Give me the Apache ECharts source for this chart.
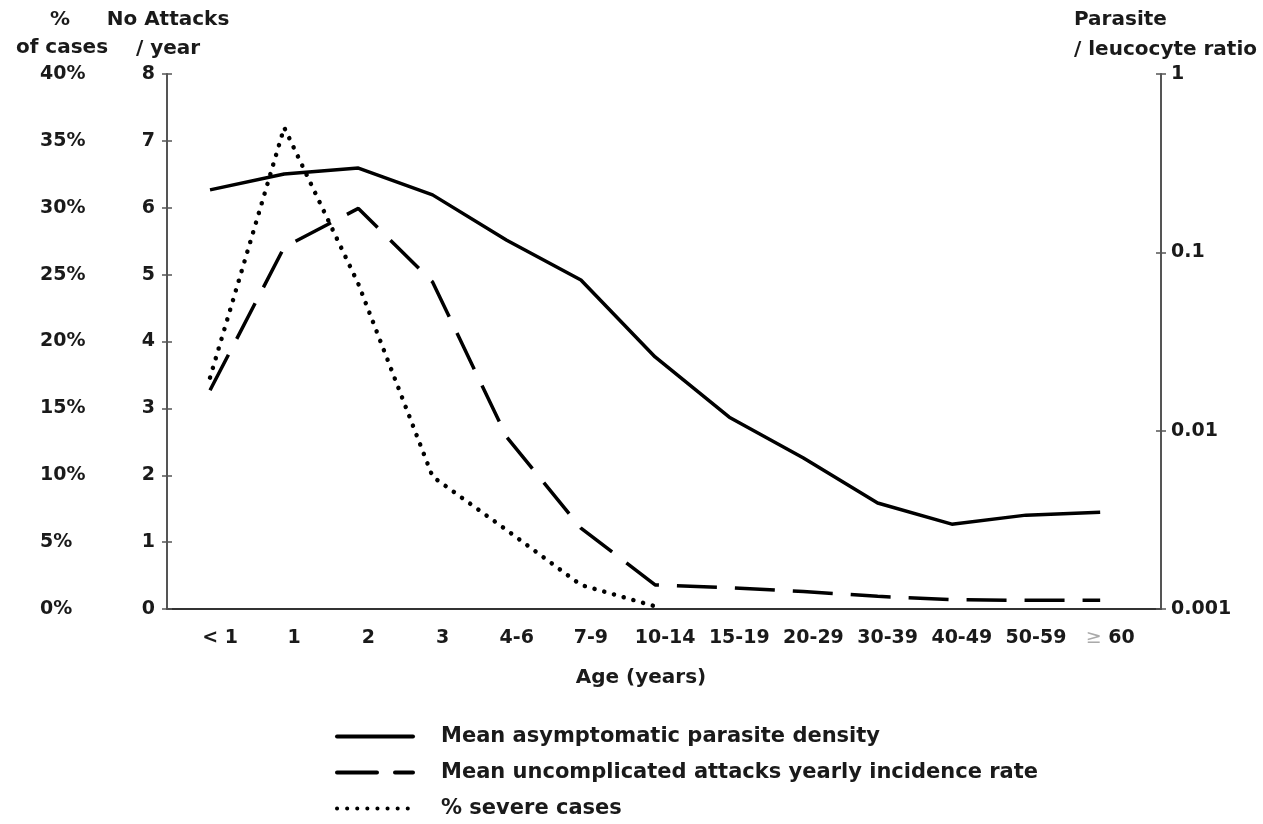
<!DOCTYPE html>
<html>
<head>
<meta charset="utf-8">
<script src="https://cdn.jsdelivr.net/npm/echarts@6/dist/echarts.min.js"></script>
<style>
html,body{margin:0;padding:0;background:#fff;}
#chart{width:1263px;height:824px;}
</style>
</head>
<body>
<div id="chart"></div>
<script>
// ---- data ----
var ageGroups = ['< 1', '1', '2', '3', '4-6', '7-9', '10-14', '15-19', '20-29', '30-39', '40-49', '50-59', '\u2265 60'];
// Mean asymptomatic parasite density (parasite / leucocyte ratio, log axis)
var parasiteDensity = [0.224, 0.275, 0.297, 0.210, 0.117, 0.070, 0.0259, 0.0119, 0.00702, 0.00393, 0.00299, 0.00336, 0.00349];
// Mean uncomplicated attacks yearly incidence rate (No attacks / year)
var attacksPerYear = [3.27, 5.41, 5.99, 4.89, 2.57, 1.21, 0.36, 0.32, 0.26, 0.19, 0.14, 0.13, 0.13];
// % severe cases
var severePct = [17.3, 36.0, 24.3, 9.9, 5.9, 1.8, 0.2];
var pctTicks = [0, 5, 10, 15, 20, 25, 30, 35, 40];
var ratioTicks = [0.001, 0.01, 0.1, 1];

var FONT = '"DejaVu Sans", "Liberation Sans", Arial, sans-serif';
var TXT = '#1a1a1a';

function pairs(arr) { return arr.map(function (v, i) { return [i, v]; }); }

var chart = echarts.init(document.getElementById('chart'), null, {renderer: 'canvas'});
var labelStyle = {fontFamily: FONT, fontWeight: 'bold', fontSize: 19, color: TXT};

var option = {
  animation: false,
  backgroundColor: '#fff',
  grid: {left: 167, right: 102, top: 74, bottom: 215},
  xAxis: {
    type: 'value', min: -0.58, max: 12.82,
    axisLine: {show: true, onZero: false, lineStyle: {color: '#333', width: 2}},
    axisTick: {show: false},
    splitLine: {show: false},
    axisLabel: {
      customValues: ageGroups.map(function (d, i) { return i; }),
      margin: 20, padding: [0, 0, 0, 20],
      fontFamily: FONT, fontWeight: 'bold', fontSize: 19, color: TXT,
      formatter: function (v) {
        var s = ageGroups[Math.round(v)];
        if (s && s.charAt(0) === '\u2265') return '{g|\u2265}' + s.slice(1);
        return s;
      },
      rich: {g: {color: '#aaa', fontFamily: FONT, fontWeight: 'normal', fontSize: 19}}
    }
  },
  yAxis: [
    { // 0: attacks / year
      type: 'value', position: 'left', min: 0, max: 8, interval: 1,
      axisLine: {show: true, onZero: false, lineStyle: {color: '#555', width: 2}},
      axisTick: {show: true, length: 5, lineStyle: {color: '#555', width: 1.5}},
      splitLine: {show: false},
      axisLabel: Object.assign({margin: 12}, labelStyle)
    },
    { // 1: % of cases
      type: 'value', position: 'left', min: 0, max: 40, interval: 5,
      axisLine: {show: false, onZero: false}, axisTick: {show: false}, splitLine: {show: false},
      axisLabel: Object.assign({margin: 127, align: 'left', formatter: '{value}%'}, labelStyle)
    },
    { // 2: parasite / leucocyte ratio (log)
      type: 'log', logBase: 10, position: 'right', min: 0.001, max: 1,
      axisLine: {show: true, onZero: false, lineStyle: {color: '#555', width: 2}},
      axisTick: {show: true, length: 5, lineStyle: {color: '#555', width: 1.5}},
      splitLine: {show: false}, minorTick: {show: false},
      axisLabel: Object.assign({margin: 10, formatter: function (v) { return String(Number(v.toPrecision(3))); }}, labelStyle)
    },
    { // 3: inside ticks left
      type: 'value', position: 'left', min: 0, max: 8, interval: 1,
      axisLine: {show: false, onZero: false}, splitLine: {show: false}, axisLabel: {show: false},
      axisTick: {show: true, inside: true, length: 5, lineStyle: {color: '#555', width: 1.5}}
    },
    { // 4: inside ticks right
      type: 'log', logBase: 10, position: 'right', min: 0.001, max: 1,
      axisLine: {show: false, onZero: false}, splitLine: {show: false}, axisLabel: {show: false}, minorTick: {show: false},
      axisTick: {show: true, inside: true, length: 5, lineStyle: {color: '#555', width: 1.5}}
    }
  ],
  legend: {
    orient: 'vertical', left: 335, top: 726, padding: 0, itemWidth: 76, itemHeight: 14, itemGap: 15,
    itemStyle: {opacity: 0},
    lineStyle: {width: 4, cap: 'round'},
    textStyle: {fontFamily: FONT, fontWeight: 'bold', fontSize: 21, color: TXT, padding: [0, 0, 0, 23]},
    data: ['Mean asymptomatic parasite density', 'Mean uncomplicated attacks yearly incidence rate', '% severe cases']
  },
  series: [
    {
      name: 'Mean asymptomatic parasite density', type: 'line', yAxisIndex: 2,
      data: pairs(parasiteDensity), symbol: 'none', color: '#000',
      lineStyle: {color: '#000', width: 3.5}
    },
    {
      name: 'Mean uncomplicated attacks yearly incidence rate', type: 'line', yAxisIndex: 0,
      data: pairs(attacksPerYear), symbol: 'none', color: '#000',
      lineStyle: {color: '#000', width: 3.5, type: [40, 18]}
    },
    {
      name: '% severe cases', type: 'line', yAxisIndex: 1,
      data: pairs(severePct), symbol: 'none', color: '#000',
      lineStyle: {color: '#000', width: 4.5, type: [0.1, 10], cap: 'round'}
    }
  ],
  graphic: [
    {type: 'text', x: 60, y: 20, style: {text: '%', align: 'center', verticalAlign: 'middle', fontFamily: FONT, fontWeight: 'bold', fontSize: 20, fill: TXT}},
    {type: 'text', x: 62, y: 48, style: {text: 'of cases', align: 'center', verticalAlign: 'middle', fontFamily: FONT, fontWeight: 'bold', fontSize: 20, fill: TXT}},
    {type: 'text', x: 168, y: 20, style: {text: 'No Attacks', align: 'center', verticalAlign: 'middle', fontFamily: FONT, fontWeight: 'bold', fontSize: 20, fill: TXT}},
    {type: 'text', x: 168, y: 49, style: {text: '/ year', align: 'center', verticalAlign: 'middle', fontFamily: FONT, fontWeight: 'bold', fontSize: 20, fill: TXT}},
    {type: 'text', x: 1074, y: 20, style: {text: 'Parasite', align: 'left', verticalAlign: 'middle', fontFamily: FONT, fontWeight: 'bold', fontSize: 20, fill: TXT}},
    {type: 'text', x: 1074, y: 50, style: {text: '/ leucocyte ratio', align: 'left', verticalAlign: 'middle', fontFamily: FONT, fontWeight: 'bold', fontSize: 20, fill: TXT}},
    {type: 'text', x: 641, y: 678, style: {text: 'Age (years)', align: 'center', verticalAlign: 'middle', fontFamily: FONT, fontWeight: 'bold', fontSize: 20, fill: TXT}}
  ]
};
chart.setOption(option);
</script>
</body>
</html>
